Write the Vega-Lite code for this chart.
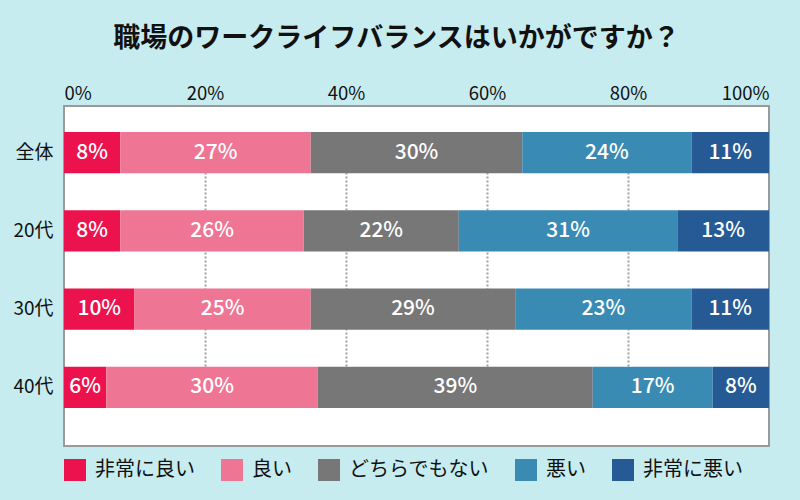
{
  "$schema": "https://vega.github.io/schema/vega-lite/v6.json",
  "autosize": "none",
  "width": 705,
  "height": 340,
  "padding": {"left": 64, "top": 106, "right": 31, "bottom": 54},
  "background": "#c6ecf0",
  "title": {
    "text": "職場のワークライフバランスはいかがですか？",
    "font": "Noto Sans CJK JP",
    "fontSize": 27,
    "fontWeight": "bold",
    "color": "#111111",
    "anchor": "middle",
    "frame": "group",
    "offset": 31,
    "dx": -20
  },
  "config": {
    "view": {"fill": "#ffffff", "stroke": "#9a9a9a", "strokeWidth": 2},
    "font": "Noto Sans CJK JP"
  },
  "data": {
    "values": [
      {"group": "全体", "cat": "非常に良い", "k": 1, "value": 8, "label": "8%"},
      {"group": "全体", "cat": "良い", "k": 2, "value": 27, "label": "27%"},
      {"group": "全体", "cat": "どちらでもない", "k": 3, "value": 30, "label": "30%"},
      {"group": "全体", "cat": "悪い", "k": 4, "value": 24, "label": "24%"},
      {"group": "全体", "cat": "非常に悪い", "k": 5, "value": 11, "label": "11%"},
      {"group": "20代", "cat": "非常に良い", "k": 1, "value": 8, "label": "8%"},
      {"group": "20代", "cat": "良い", "k": 2, "value": 26, "label": "26%"},
      {"group": "20代", "cat": "どちらでもない", "k": 3, "value": 22, "label": "22%"},
      {"group": "20代", "cat": "悪い", "k": 4, "value": 31, "label": "31%"},
      {"group": "20代", "cat": "非常に悪い", "k": 5, "value": 13, "label": "13%"},
      {"group": "30代", "cat": "非常に良い", "k": 1, "value": 10, "label": "10%"},
      {"group": "30代", "cat": "良い", "k": 2, "value": 25, "label": "25%"},
      {"group": "30代", "cat": "どちらでもない", "k": 3, "value": 29, "label": "29%"},
      {"group": "30代", "cat": "悪い", "k": 4, "value": 25, "label": "23%"},
      {"group": "30代", "cat": "非常に悪い", "k": 5, "value": 11, "label": "11%"},
      {"group": "40代", "cat": "非常に良い", "k": 1, "value": 6, "label": "6%"},
      {"group": "40代", "cat": "良い", "k": 2, "value": 30, "label": "30%"},
      {"group": "40代", "cat": "どちらでもない", "k": 3, "value": 39, "label": "39%"},
      {"group": "40代", "cat": "悪い", "k": 4, "value": 17, "label": "17%"},
      {"group": "40代", "cat": "非常に悪い", "k": 5, "value": 8, "label": "8%"}
    ]
  },
  "transform": [
    {"stack": "value", "groupby": ["group"], "sort": [{"field": "k", "order": "ascending"}], "as": ["v0", "v1"]},
    {"calculate": "(datum.v0 + datum.v1) / 2", "as": "mid"}
  ],
  "encoding": {
    "y": {
      "field": "group",
      "type": "nominal",
      "sort": ["全体", "20代", "30代", "40代"],
      "scale": {"range": [26, 302], "paddingInner": 0.474, "paddingOuter": 0},
      "axis": {
        "title": null,
        "domain": false,
        "ticks": false,
        "labelFontSize": 19,
        "labelColor": "#111111",
        "labelPadding": 11,
        "labelFont": "Noto Sans CJK JP"
      }
    }
  },
  "layer": [
    {
      "mark": {"type": "bar", "stroke": null},
      "encoding": {
        "x": {
          "field": "v0",
          "type": "quantitative",
          "scale": {"domain": [0, 100], "nice": false},
          "axis": {
            "orient": "top",
            "title": null,
            "domain": false,
            "ticks": false,
            "values": [0, 20, 40, 60, 80, 100],
            "labelExpr": "datum.value + '%'",
            "labelFontSize": 18.5,
            "labelColor": "#111111",
            "labelPadding": 3,
            "labelFont": "Noto Sans CJK JP",
            "gridColor": "#a0a0a0",
            "gridWidth": 2,
            "gridDash": [2, 2],
            "gridOpacity": {"condition": {"test": "datum.value == 0 || datum.value == 100", "value": 0}, "value": 1}
          }
        },
        "x2": {"field": "v1"},
        "color": {
          "field": "cat",
          "type": "nominal",
          "scale": {
            "domain": ["非常に良い", "良い", "どちらでもない", "悪い", "非常に悪い"],
            "range": ["#ec124d", "#ef7594", "#777777", "#398bb3", "#265a94"]
          },
          "legend": {
            "orient": "none",
            "legendX": 0,
            "legendY": 353,
            "direction": "horizontal",
            "title": null,
            "symbolType": "square",
            "symbolSize": 484,
            "symbolStrokeWidth": 0,
            "symbolOpacity": 1,
            "labelFontSize": 20,
            "labelColor": "#111111",
            "labelFont": "Noto Sans CJK JP",
            "labelOffset": 9,
            "columnPadding": 26,
            "padding": 0,
            "labelLimit": 300
          }
        }
      }
    },
    {
      "mark": {"type": "text", "color": "#ffffff", "fontSize": 21, "fontWeight": 500, "font": "Noto Sans CJK JP"},
      "encoding": {
        "x": {"field": "mid", "type": "quantitative"},
        "text": {"field": "label"}
      }
    }
  ]
}
